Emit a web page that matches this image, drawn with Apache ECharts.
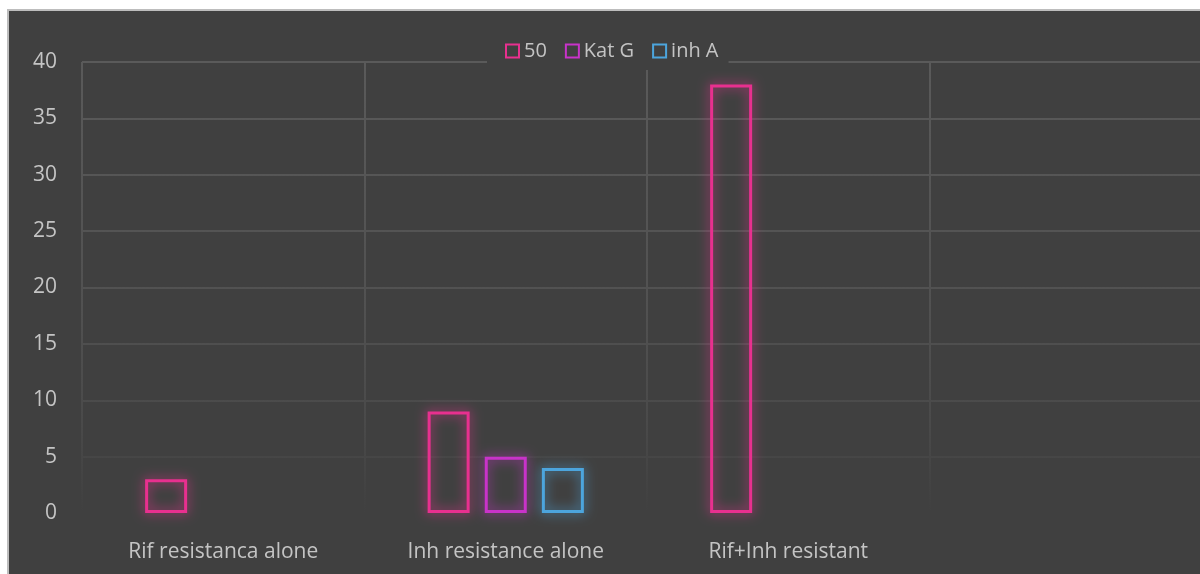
<!DOCTYPE html>
<html>
<head>
<meta charset="utf-8">
<script src="https://cdn.jsdelivr.net/npm/echarts@6/dist/echarts.min.js"></script>
<style>
  html, body { margin: 0; padding: 0; background: #ffffff; width: 1200px; height: 574px; overflow: hidden; position: relative; }
  #frame { position: absolute; left: 7px; top: 9px; width: 1220px; height: 570px; background: #bdbdbd; }
  #chart { position: absolute; left: 9px; top: 11px; width: 1212px; height: 563px; background: #404040; }
</style>
</head>
<body>
<div id="frame"></div>
<div id="chart"></div>
<script>
// Categories along the x axis (last slot is left empty)
const categories = ['Rif resistanca alone', 'Inh resistance alone', 'Rif+Inh resistant', ''];

// Series names and values per category
const seriesNames = ['50', 'Kat G', 'inh A'];
const values50 = [3, 9, 38, null];
const valuesKatG = [null, 5, null, null];
const valuesInhA = [null, 4, null, null];

// Y axis range
const yMin = 0;
const yMax = 40;
const yStep = 5;

const colors = ['#e8308f', '#c833c9', '#4ca5dd'];
const glow = ['rgba(232,48,143,1)', 'rgba(200,51,201,1)', 'rgba(76,165,221,1)'];

const labelColor = '#c4c4c4';
const fontFamily = '"Open Sans", "Noto Sans", sans-serif';
const fontSize = 21;

// Grid lines fade out towards the bottom of the plot
const gridFade = new echarts.graphic.LinearGradient(0, 51, 0, 502, [
  { offset: 0, color: '#5a5a5a' },
  { offset: 0.55, color: '#515151' },
  { offset: 0.8, color: '#4a4a4a' },
  { offset: 1, color: '#404040' }
], true);

const chart = echarts.init(document.getElementById('chart'), null, { renderer: 'canvas' });

const data = [values50, valuesKatG, valuesInhA];

chart.setOption({
  animation: false,
  backgroundColor: '#404040',
  textStyle: { fontFamily: fontFamily },
  grid: { left: 73, top: 51, bottom: 61, right: 9, containLabel: false },
  legend: {
    left: 478,
    top: 21,
    padding: [9, 10, 9, 18],
    backgroundColor: '#404040',
    itemWidth: 13,
    itemHeight: 13,
    itemGap: 18,
    icon: 'rect',
    textStyle: { color: labelColor, fontSize: 20, fontFamily: fontFamily },
    data: seriesNames.map((n, i) => ({
      name: n,
      itemStyle: { color: 'rgba(0,0,0,0)', borderColor: colors[i], borderWidth: 2, shadowBlur: 0 }
    }))
  },
  xAxis: {
    type: 'category',
    data: categories,
    axisLine: { show: false },
    axisTick: { show: false },
    axisLabel: { color: labelColor, fontSize: fontSize, margin: 29, fontFamily: fontFamily },
    splitLine: { show: true, lineStyle: { color: gridFade, width: 2 } }
  },
  yAxis: {
    type: 'value',
    min: yMin,
    max: yMax,
    interval: yStep,
    axisLine: { show: false },
    axisTick: { show: false },
    axisLabel: { color: labelColor, fontSize: fontSize, margin: 25, fontFamily: fontFamily },
    splitLine: { show: true, lineStyle: { color: gridFade, width: 2 } }
  },
  series: seriesNames.map((n, i) => ({
    name: n,
    type: 'bar',
    data: data[i],
    barWidth: 42,
    barGap: '36%',
    itemStyle: {
      color: 'rgba(0,0,0,0)',
      borderColor: colors[i],
      borderWidth: 3,
      shadowBlur: 12,
      shadowColor: glow[i]
    },
    emphasis: { disabled: true }
  }))
});
</script>
</body>
</html>
